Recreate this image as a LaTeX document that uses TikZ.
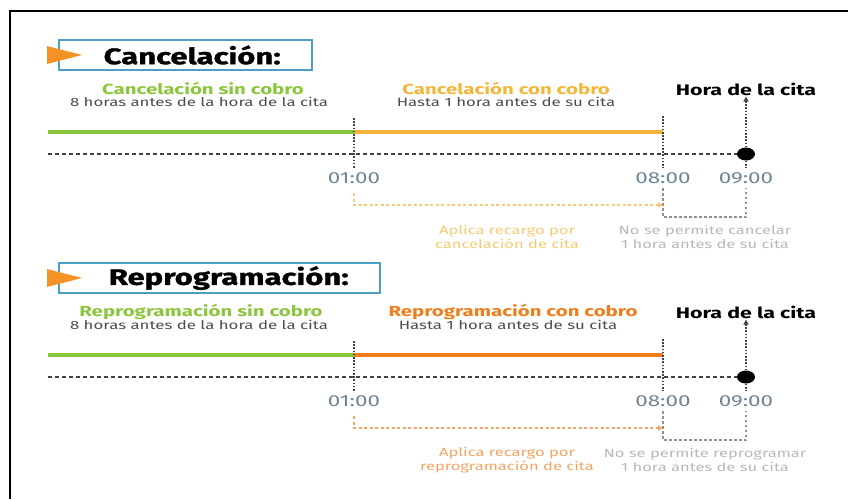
\documentclass[tikz,border=0pt]{standalone}
\usepackage{fontspec}
\setmainfont{Fira Sans}[FakeStretch=1.4]
\newfontfamily\headfont{Fira Sans}[FakeStretch=1.38,FakeBold=1.2]
\usetikzlibrary{arrows.meta,shapes.geometric}

\definecolor{sin}{HTML}{8CC63E}
\definecolor{cony}{HTML}{F4B63A}
\definecolor{cono}{HTML}{F07D1A}
\definecolor{tri}{HTML}{F39325}
\definecolor{boxblue}{HTML}{4C9FC4}
\definecolor{axisgray}{HTML}{444444}
\definecolor{timegray}{HTML}{6F8596}
\definecolor{noteyellow}{HTML}{F5CB72}
\definecolor{noteorange}{HTML}{F4A462}
\definecolor{notegray}{HTML}{B8B8B8}
\definecolor{brackgray}{HTML}{909090}

\begin{document}
\begin{tikzpicture}[x=1pt,y=-1pt,>={Triangle[length=5pt,width=5pt]},
  headbox/.style={draw=boxblue,line width=1.5pt,anchor=west,minimum height=30pt,
    inner xsep=31pt,align=right,text width=#1,font=\headfont\fontsize{22.5}{25}\selectfont\bfseries},
  title/.style={font=\fontsize{14.6}{16}\selectfont\bfseries,inner sep=0},
  sub/.style={font=\fontsize{12}{14}\selectfont,text=black!70,inner sep=0},
  time/.style={font=\fontsize{16}{18}\selectfont,text=timegray,inner sep=1pt},
  note/.style={font=\fontsize{11.8}{13.5}\selectfont,align=center,inner sep=0},
  period/.style={line width=3.5pt},
  axis/.style={draw=axisgray,line width=1.3pt,dash pattern=on 4pt off 3pt},
  tick/.style={draw=axisgray,line width=1.6pt,dash pattern=on 1.6pt off 1.6pt},
  dot/.style={ellipse,fill=black,minimum width=18pt,minimum height=13pt,inner sep=0},
  recargo/.style={->,line width=1.2pt,dash pattern=on 3pt off 2.5pt},
  bracket/.style={draw=brackgray,line width=1.2pt,dash pattern=on 2.5pt off 2.5pt}]
  \useasboundingbox (0,0) rectangle (848,499);
  \draw[line width=2pt] (10,499) -- (10,11) -- (848,11);

  % cancelacion
  \node[headbox=191pt] (c1head) at (58,55) {Cancelación:};
  \fill[tri] ([xshift=-11pt,yshift=9pt]c1head.west) -- ([xshift=24pt]c1head.west)
    -- ([xshift=-11pt,yshift=-9pt]c1head.west) -- cycle;
  \node[title,text=sin] (c1sin) at (203,89) {Cancelación sin cobro};
  \node[sub] (c1sinsub) at (199,102) {8 horas antes de la hora de la cita};
  \node[title,text=cony] (c1con) at (506,89) {Cancelación con cobro};
  \node[sub] (c1consub) at (506,102) {Hasta 1 hora antes de su cita};
  \node[title,text=black,font=\fontsize{15.3}{17}\selectfont\bfseries] (c1hora) at (746,89) {Hora de la cita};
  \coordinate (c1start) at (48,132);
  \coordinate (c1one) at (354,132);
  \coordinate (c1eight) at (663,132);
  \draw[period,sin] (c1start) -- (c1one);
  \draw[period,cony] (c1one) -- (c1eight);
  \coordinate (c1axis) at (48,154);
  \node[dot] (c1dot) at (746,154) {};
  \draw[axis] (c1axis) -- (c1dot);
  \node[time] (c1t1) at (354,178) {01:00};
  \node[time] (c1t8) at (663,178) {08:00};
  \node[time] (c1t9) at (746,178) {09:00};
  \coordinate (c1u1) at (354,118);
  \coordinate (c1u8) at (663,116);
  \draw[tick,shorten >=3pt] (c1u1) -- (c1t1.north);
  \draw[tick,shorten >=3pt] (c1u8) -- (c1t8.north);
  \draw[tick,shorten >=3pt] (c1dot) -- (c1t9.north);
  \draw[tick,->,shorten >=1pt] (c1dot) -- (c1hora.south);
  \coordinate (c1r) at (354,193);
  \coordinate (c1rend) at (663,205);
  \draw[recargo,noteyellow] (c1r) |- (c1rend);
  \coordinate (c1b8) at (663,188);
  \coordinate (c1b9) at (746,188);
  \draw[bracket] (c1b8) -- ++(0,29) -| (c1b9);
  \node[note,text=noteyellow] (c1note) at (507,237) {Aplica recargo por\\cancelación de cita};
  \node[note,text=notegray] (c1no) at (705,237) {No se permite cancelar\\1 hora antes de su cita};

  % reprogramacion
  \node[headbox=259pt] (c2head) at (58,278) {Reprogramación:};
  \fill[tri] ([xshift=-11pt,yshift=9pt]c2head.west) -- ([xshift=24pt]c2head.west)
    -- ([xshift=-11pt,yshift=-9pt]c2head.west) -- cycle;
  \node[title,text=sin] (c2sin) at (201,312) {Reprogramación sin cobro};
  \node[sub] (c2sinsub) at (199,325) {8 horas antes de la hora de la cita};
  \node[title,text=cono] (c2con) at (513,312) {Reprogramación con cobro};
  \node[sub] (c2consub) at (508,325) {Hasta 1 hora antes de su cita};
  \node[title,text=black,font=\fontsize{15.3}{17}\selectfont\bfseries] (c2hora) at (746,312) {Hora de la cita};
  \coordinate (c2start) at (48,355);
  \coordinate (c2one) at (354,355);
  \coordinate (c2eight) at (663,355);
  \draw[period,sin] (c2start) -- (c2one);
  \draw[period,cono] (c2one) -- (c2eight);
  \coordinate (c2axis) at (48,377);
  \node[dot] (c2dot) at (746,377) {};
  \draw[axis] (c2axis) -- (c2dot);
  \node[time] (c2t1) at (354,401) {01:00};
  \node[time] (c2t8) at (663,401) {08:00};
  \node[time] (c2t9) at (746,401) {09:00};
  \coordinate (c2u1) at (354,341);
  \coordinate (c2u8) at (663,339);
  \draw[tick,shorten >=3pt] (c2u1) -- (c2t1.north);
  \draw[tick,shorten >=3pt] (c2u8) -- (c2t8.north);
  \draw[tick,shorten >=3pt] (c2dot) -- (c2t9.north);
  \draw[tick,->,shorten >=1pt] (c2dot) -- (c2hora.south);
  \coordinate (c2r) at (354,416);
  \coordinate (c2rend) at (663,428);
  \draw[recargo,noteorange] (c2r) |- (c2rend);
  \coordinate (c2b8) at (663,411);
  \coordinate (c2b9) at (746,411);
  \draw[bracket] (c2b8) -- ++(0,29) -| (c2b9);
  \node[note,text=noteorange] (c2note) at (507,460) {Aplica recargo por\\reprogramación de cita};
  \node[note,text=notegray] (c2no) at (705,460) {No se permite reprogramar\\1 hora antes de su cita};
\end{tikzpicture}
\end{document}
